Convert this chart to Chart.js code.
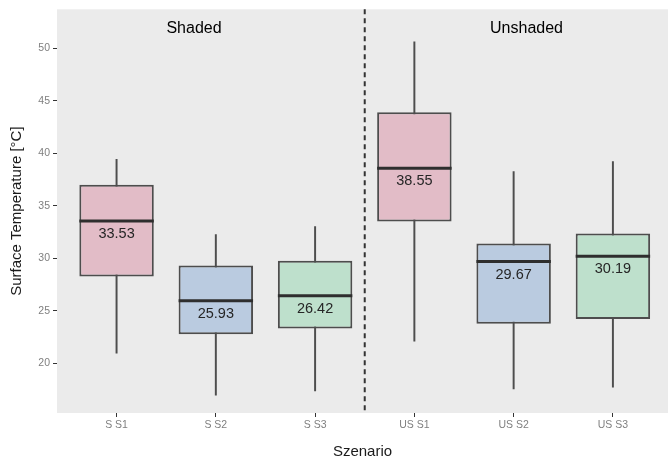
<!DOCTYPE html>
<html>
<head>
<meta charset="utf-8">
<script src="https://cdn.jsdelivr.net/npm/chart.js@4"></script>
<style>
  html, body { margin: 0; padding: 0; background: #fff; }
  #wrap { width: 668px; height: 461px; }
</style>
</head>
<body>
<div id="wrap"><canvas id="myChart" width="668" height="461"></canvas></div>
<script>
let labels = ['S S1', 'S S2', 'S S3', 'US S1', 'US S2', 'US S3'];
let whiskerLow = [20.95, 16.95, 17.35, 22.1, 17.55, 17.7];
let q1 = [28.25, 22.75, 23.3, 33.5, 23.75, 24.2];
let median = [33.53, 25.93, 26.42, 38.55, 29.67, 30.19];
let q3 = [37.0, 29.3, 29.75, 43.9, 31.4, 32.35];
let whiskerHigh = [39.4, 32.25, 33.0, 50.6, 38.25, 39.2];
let yTicks = [20, 25, 30, 35, 40, 45, 50];
let groupLabels = ['Shaded', 'Unshaded'];
let groupLabelX = [1.78, 5.13];
let ColorHex = ['#E2BCC7', '#BACBE0', '#BEE0CC', '#E2BCC7', '#BACBE0', '#BEE0CC'];

const font = "'Liberation Sans', Arial, sans-serif";

const decor = {
    id: 'decor',
    beforeDraw(chart) {
        let a = chart.chartArea, c = chart.ctx;
        c.save();
        c.fillStyle = '#EBEBEB';
        c.fillRect(a.left, a.top, a.right - a.left, a.bottom - a.top);
        c.restore();
    },
    afterDatasetsDraw(chart) {
        let c = chart.ctx, x = chart.scales.x, y = chart.scales.y;
        let boxes = chart.getDatasetMeta(0).data;
        c.save();
        // medians and their labels
        median.forEach((m, i) => {
            let bar = boxes[i];
            let py = y.getPixelForValue(m);
            c.strokeStyle = '#2E2E2E';
            c.lineWidth = 3;
            c.beginPath();
            c.moveTo(bar.x - bar.width / 2, py);
            c.lineTo(bar.x + bar.width / 2, py);
            c.stroke();
            c.fillStyle = '#262626';
            c.font = '14.5px ' + font;
            c.textAlign = 'center';
            c.textBaseline = 'middle';
            c.fillText(m.toFixed(2), bar.x, py + 13);
        });
        // dashed separator
        let sx = x.getPixelForValue(3.5);
        c.strokeStyle = '#333333';
        c.lineWidth = 2;
        c.setLineDash([5, 4]);
        c.beginPath();
        c.moveTo(sx, chart.chartArea.top);
        c.lineTo(sx, chart.chartArea.bottom);
        c.stroke();
        c.setLineDash([]);
        // facet labels
        c.fillStyle = '#000000';
        c.font = '16px ' + font;
        c.textAlign = 'center';
        c.textBaseline = 'middle';
        groupLabels.forEach((g, i) => {
            c.fillText(g, x.getPixelForValue(groupLabelX[i]), y.getPixelForValue(51.9));
        });
        c.restore();
    }
};

let ctx = document.getElementById('myChart').getContext('2d');
var myChart = new Chart(ctx, {
    type: 'bar',
    data: {
        datasets: [{
            data: labels.map((l, i) => ({ x: i + 1, y: [q1[i], q3[i]] })),
            backgroundColor: ColorHex,
            borderColor: '#4D4D4D',
            borderWidth: 2,
            borderSkipped: false,
            barPercentage: 0.75,
            categoryPercentage: 1,
            grouped: false
        }, {
            data: labels.map((l, i) => ({ x: i + 1, y: [whiskerLow[i], whiskerHigh[i]] })),
            backgroundColor: '#4D4D4D',
            barThickness: 1.3,
            grouped: false
        }]
    },
    options: {
        responsive: false,
        animation: false,
        layout: { padding: { top: 8, right: 0, left: 0, bottom: 0 } },
        plugins: {
            legend: { display: false },
            tooltip: { enabled: false }
        },
        scales: {
            x: {
                type: 'linear',
                min: 0.4,
                max: 6.555,
                offset: false,
                afterBuildTicks: s => { s.ticks = labels.map((l, i) => ({ value: i + 1 })); },
                afterFit: s => { s.height = 48; },
                ticks: {
                    callback: v => labels[v - 1],
                    color: '#7F7F7F',
                    font: { family: font, size: 10.5 },
                    padding: 2,
                    maxRotation: 0
                },
                grid: { offset: false, drawOnChartArea: false, tickColor: '#333333', tickLength: 4, lineWidth: 1 },
                border: { display: false },
                title: {
                    display: true,
                    text: 'Szenario',
                    color: '#1A1A1A',
                    font: { family: font, size: 15 },
                    padding: { top: 8, bottom: 0 }
                }
            },
            y: {
                min: 15.25,
                max: 53.7,
                afterBuildTicks: s => { s.ticks = yTicks.map(v => ({ value: v })); },
                afterFit: s => { s.width = 57; },
                ticks: {
                    color: '#7F7F7F',
                    font: { family: font, size: 10.5 },
                    padding: 3
                },
                grid: { drawOnChartArea: false, tickColor: '#333333', tickLength: 4, lineWidth: 1 },
                border: { display: false },
                title: {
                    display: true,
                    text: 'Surface Temperature [°C]',
                    color: '#1A1A1A',
                    font: { family: font, size: 15 },
                    padding: { top: 8, bottom: 0 }
                }
            }
        }
    },
    plugins: [decor]
});
</script>
</body>
</html>
